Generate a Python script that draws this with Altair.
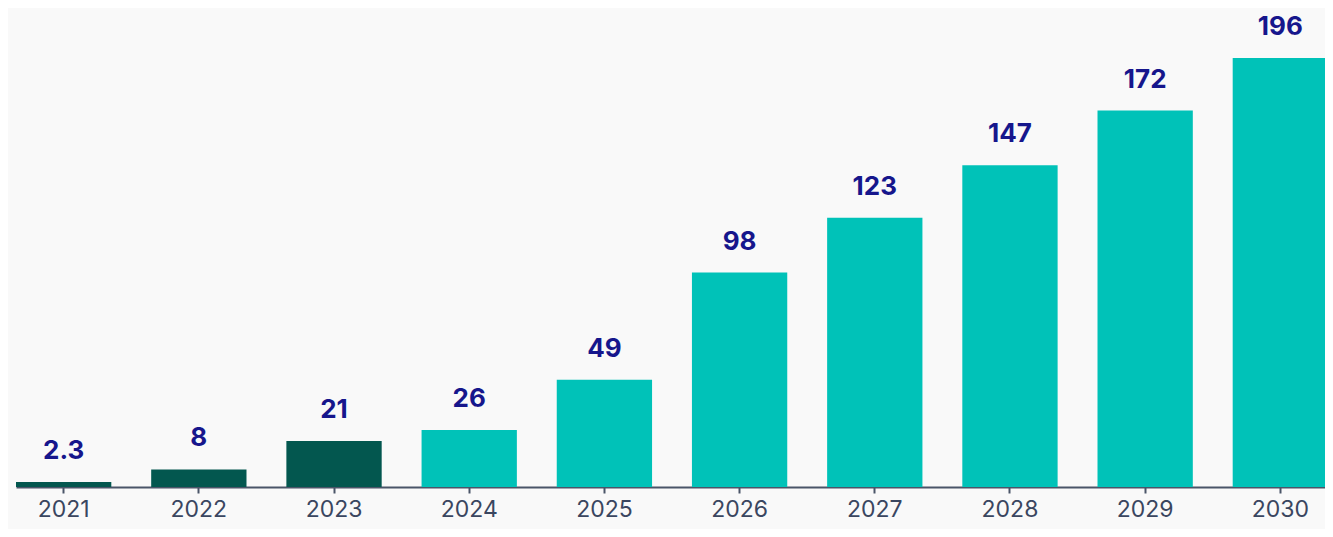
import altair as alt
import pandas as pd

years = ["2021", "2022", "2023", "2024", "2025", "2026", "2027", "2028", "2029", "2030"]
values = [2.3, 8, 21, 26, 49, 98, 123, 147, 172, 196]
labels = ["2.3", "8", "21", "26", "49", "98", "123", "147", "172", "196"]
groups = ["actual", "actual", "actual", "forecast", "forecast", "forecast",
          "forecast", "forecast", "forecast", "forecast"]

df = pd.DataFrame({"year": years, "value": values, "label": labels, "group": groups})

x = alt.X("year:N", sort=years, title=None,
          scale=alt.Scale(paddingInner=0.295, paddingOuter=0, range=[0, 1312]),
          axis=alt.Axis(labelAngle=0, labelFont="Inter", labelFontSize=23,
                        labelColor="#3a4660", labelPadding=5,
                        domainColor="#4a5568", domainWidth=2,
                        tickColor="#4a5568", tickWidth=2, tickSize=6,
                        grid=False))
y = alt.Y("value:Q", scale=alt.Scale(domain=[0, 217.5], nice=False), axis=None)

bars = alt.Chart(df).mark_bar().encode(
    x=x, y=y,
    color=alt.Color("group:N", legend=None,
                    scale=alt.Scale(domain=["actual", "forecast"],
                                    range=["#03574f", "#00c2b8"])),
)

text = alt.Chart(df).mark_text(
    baseline="alphabetic", dy=-23, font="Inter", fontSize=26, fontWeight="bold",
    color="#16168c",
).encode(x=alt.X("year:N", sort=years), y=y, text="label:N")

chart = (bars + text).properties(
    width=1309, height=476,
    autosize=alt.AutoSizeParams(type="none"),
    padding={"left": 8, "top": 3, "right": 0, "bottom": 42},
    background="#f9f9f9",
).configure_view(stroke=None)

chart.save("out.html", embed_options={"renderer": "svg", "actions": False})
